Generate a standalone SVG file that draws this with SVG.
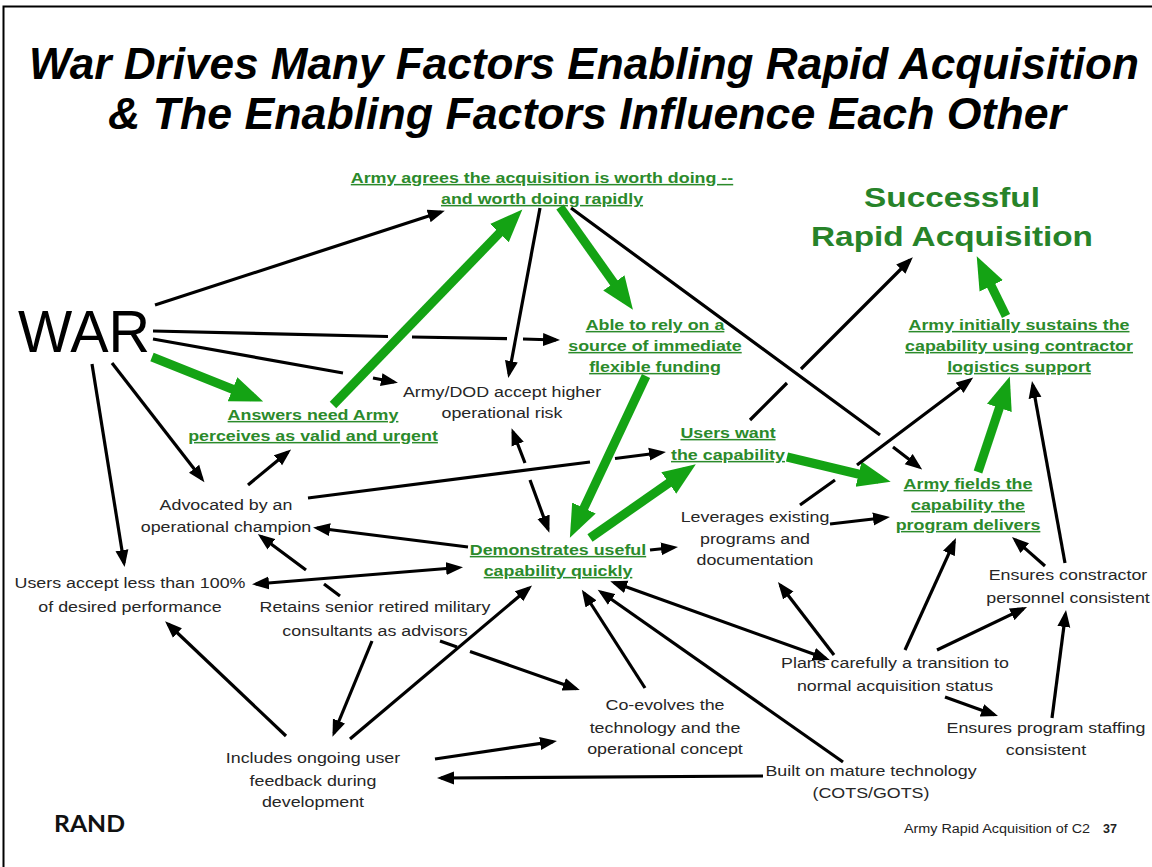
<svg xmlns="http://www.w3.org/2000/svg" width="1152" height="867" viewBox="0 0 1152 867">
<style>
.t{font-family:"Liberation Sans",Arial,sans-serif;}
.b{font-family:"Liberation Sans",Arial,sans-serif;font-size:15px;fill:#262626;text-anchor:middle;}
.g{font-family:"Liberation Sans",Arial,sans-serif;font-size:15px;font-weight:bold;fill:#2b8a2b;text-anchor:middle;text-decoration:underline;}
.big{font-family:"Liberation Sans",Arial,sans-serif;font-size:28px;font-weight:bold;fill:#278329;text-anchor:middle;}
.k{fill:none;stroke:#000;stroke-width:3.2;marker-end:url(#ah);}
.k2{fill:none;stroke:#000;stroke-width:3.2;marker-start:url(#ah);marker-end:url(#ah);}
.gr{fill:none;stroke:#14a314;stroke-width:9;marker-end:url(#gh);}
</style>
<defs>
<marker id="ah" markerUnits="userSpaceOnUse" viewBox="0 0 18 14" markerWidth="18" markerHeight="14" refX="13" refY="7" orient="auto-start-reverse"><path d="M0,0.5 L17,7 L0,13.5 z" fill="#000"/></marker>
<marker id="gh" markerUnits="userSpaceOnUse" viewBox="0 0 34 28" markerWidth="34" markerHeight="28" refX="21" refY="14" orient="auto"><path d="M0,1 L33,14 L0,27 z" fill="#14a314"/></marker>
</defs>
<rect x="0" y="0" width="1152" height="867" fill="#fff"/>
<rect x="3.5" y="6.5" width="1160" height="870" fill="none" stroke="#000" stroke-width="2"/>

<g id="title" class="t" font-weight="bold" font-style="italic" font-size="44" text-anchor="middle" fill="#000">
<text x="584" y="79" textLength="1110" lengthAdjust="spacingAndGlyphs">War Drives Many Factors Enabling Rapid Acquisition</text>
<text x="587" y="129" textLength="958" lengthAdjust="spacingAndGlyphs">&amp; The Enabling Factors Influence Each Other</text>
</g>

<g id="connectors">
<path class="k" d="M155,305 L441,212"/>
<path class="k" d="M153,331 L388,336.5 M412,337 L507,338.6 M523,339 L556,340"/>
<path class="k" d="M153,339 L343,373 M373,378 L394,382"/>
<path class="gr" d="M152,357 L252,397"/>
<path class="k" d="M112,363 L202,479"/>
<path class="k" d="M92,364 L124,563"/>
<path class="k" d="M248,485 L288,452"/>
<path class="gr" d="M333,405 L514,218"/>
<path class="k" d="M540,208 L509,374"/>
<path class="gr" d="M560,207 L626,300"/>
<path class="k" d="M571,208 L880,435 M893,447 L919,467"/>
<path class="gr" d="M646,376 L575,527"/>
<path class="gr" d="M590,538 L686,471"/>
<path class="k2" d="M513,432 L525,463 M530,480 L548,529"/>
<path class="k" d="M308,498 L590,462 M615,458.5 L662,452.5"/>
<path class="gr" d="M787,457 L879,479"/>
<path class="k" d="M750,420 L787,383 M801,369 L910,260"/>
<path class="gr" d="M978,472 L1006,388"/>
<path class="gr" d="M1006,316 L982,267"/>
<path class="k" d="M800,505 L835,480 M857,465 L970,380"/>
<path class="k" d="M830,524 L886,517.5"/>
<path class="k" d="M650,550 L674,547.5"/>
<path class="k" d="M468,547 L317,528"/>
<path class="k2" d="M256,584 L459,567.5"/>
<path class="k" d="M340,596 L324,584 M306,570 L261,536.5"/>
<path class="k" d="M372,641 L334,733"/>
<path class="k" d="M440,641 L457,647 M470,651.5 L576,688.7"/>
<path class="k" d="M350,739 L529,588"/>
<path class="k" d="M286,736 L168,624"/>
<path class="k" d="M435,759 L553,741.6"/>
<path class="k" d="M763,776 L441,778"/>
<path class="k" d="M645,688 L584,593"/>
<path class="k" d="M843,762 L601,592"/>
<path class="k2" d="M614,582.5 L826,658.6"/>
<path class="k" d="M834,655 L780.4,585.2"/>
<path class="k" d="M905,650 L954.3,541.6"/>
<path class="k" d="M937,650 L1023.4,608.7"/>
<path class="k" d="M945,697 L994.2,714.7"/>
<path class="k" d="M1045,566 L1015,539.6"/>
<path class="k" d="M1052,718 L1065.5,614"/>
<path class="k" d="M1065,563 L1032.7,385"/>
</g>

<g id="n-war"><text class="t" x="18" y="352" font-size="60" fill="#000" textLength="132" lengthAdjust="spacingAndGlyphs">WAR</text></g>

<g id="n-agree" transform="translate(542 0) scale(1.19 1)"><text class="g"><tspan x="0" y="183">Army agrees the acquisition is worth doing --</tspan><tspan x="0" y="204">and worth doing rapidly</tspan></text></g>
<g id="n-success" transform="translate(952 0) scale(1.19 1)"><text class="big"><tspan x="0" y="207">Successful</tspan><tspan x="0" y="246">Rapid Acquisition</tspan></text></g>
<g id="n-funding" transform="translate(655 0) scale(1.19 1)"><text class="g"><tspan x="0" y="330">Able to rely on a</tspan><tspan x="0" y="351">source of immediate</tspan><tspan x="0" y="372">flexible funding</tspan></text></g>
<g id="n-sustain" transform="translate(1019 0) scale(1.19 1)"><text class="g"><tspan x="0" y="330">Army initially sustains the</tspan><tspan x="0" y="351">capability using contractor</tspan><tspan x="0" y="372">logistics support</tspan></text></g>
<g id="n-answers" transform="translate(313 0) scale(1.19 1)"><text class="g"><tspan x="0" y="420">Answers need Army</tspan><tspan x="0" y="441">perceives as valid and urgent</tspan></text></g>
<g id="n-userswant" transform="translate(728 0) scale(1.19 1)"><text class="g"><tspan x="0" y="438">Users want</tspan><tspan x="0" y="460">the capability</tspan></text></g>
<g id="n-fields" transform="translate(968 0) scale(1.19 1)"><text class="g"><tspan x="0" y="489">Army fields the</tspan><tspan x="0" y="510">capability the</tspan><tspan x="0" y="530">program delivers</tspan></text></g>
<g id="n-demo" transform="translate(558 0) scale(1.19 1)"><text class="g"><tspan x="0" y="555">Demonstrates useful</tspan><tspan x="0" y="576">capability quickly</tspan></text></g>

<g id="n-risk" transform="translate(502 0) scale(1.19 1)"><text class="b"><tspan x="0" y="397">Army/DOD accept higher</tspan><tspan x="0" y="418">operational risk</tspan></text></g>
<g id="n-champion" transform="translate(226 0) scale(1.19 1)"><text class="b"><tspan x="0" y="510">Advocated by an</tspan><tspan x="0" y="532">operational champion</tspan></text></g>
<g id="n-leverage" transform="translate(755 0) scale(1.19 1)"><text class="b"><tspan x="0" y="522">Leverages existing</tspan><tspan x="0" y="544">programs and</tspan><tspan x="0" y="565">documentation</tspan></text></g>
<g id="n-accept" transform="translate(130 0) scale(1.19 1)"><text class="b"><tspan x="0" y="588">Users accept less than 100%</tspan><tspan x="0" y="612">of desired performance</tspan></text></g>
<g id="n-retains" transform="translate(375 0) scale(1.19 1)"><text class="b"><tspan x="0" y="612">Retains senior retired military</tspan><tspan x="0" y="636">consultants as advisors</tspan></text></g>
<g id="n-plans" transform="translate(895 0) scale(1.19 1)"><text class="b"><tspan x="0" y="668">Plans carefully a transition to</tspan><tspan x="0" y="691">normal acquisition status</tspan></text></g>
<g id="n-coevolve" transform="translate(665 0) scale(1.19 1)"><text class="b"><tspan x="0" y="710">Co-evolves the</tspan><tspan x="0" y="733">technology and the</tspan><tspan x="0" y="754">operational concept</tspan></text></g>
<g id="n-contractor" transform="translate(1068 0) scale(1.19 1)"><text class="b"><tspan x="0" y="580">Ensures constractor</tspan><tspan x="0" y="603">personnel consistent</tspan></text></g>
<g id="n-staffing" transform="translate(1046 0) scale(1.19 1)"><text class="b"><tspan x="0" y="733">Ensures program staffing</tspan><tspan x="0" y="755">consistent</tspan></text></g>
<g id="n-feedback" transform="translate(313 0) scale(1.19 1)"><text class="b"><tspan x="0" y="763">Includes ongoing user</tspan><tspan x="0" y="786">feedback during</tspan><tspan x="0" y="807">development</tspan></text></g>
<g id="n-mature" transform="translate(871 0) scale(1.19 1)"><text class="b"><tspan x="0" y="776">Built on mature technology</tspan><tspan x="0" y="798">(COTS/GOTS)</tspan></text></g>

<g id="footer">
<text x="54" y="832" font-family="Lato,'Liberation Sans',sans-serif" font-weight="bold" font-size="23" fill="#111" textLength="71" lengthAdjust="spacingAndGlyphs">RAND</text>
<text class="t" x="904" y="833" font-size="12.5" fill="#222" textLength="186" lengthAdjust="spacingAndGlyphs">Army Rapid Acquisition of C2</text>
<text class="t" x="1103" y="833" font-size="12.5" font-weight="bold" fill="#222">37</text>
</g>
</svg>
